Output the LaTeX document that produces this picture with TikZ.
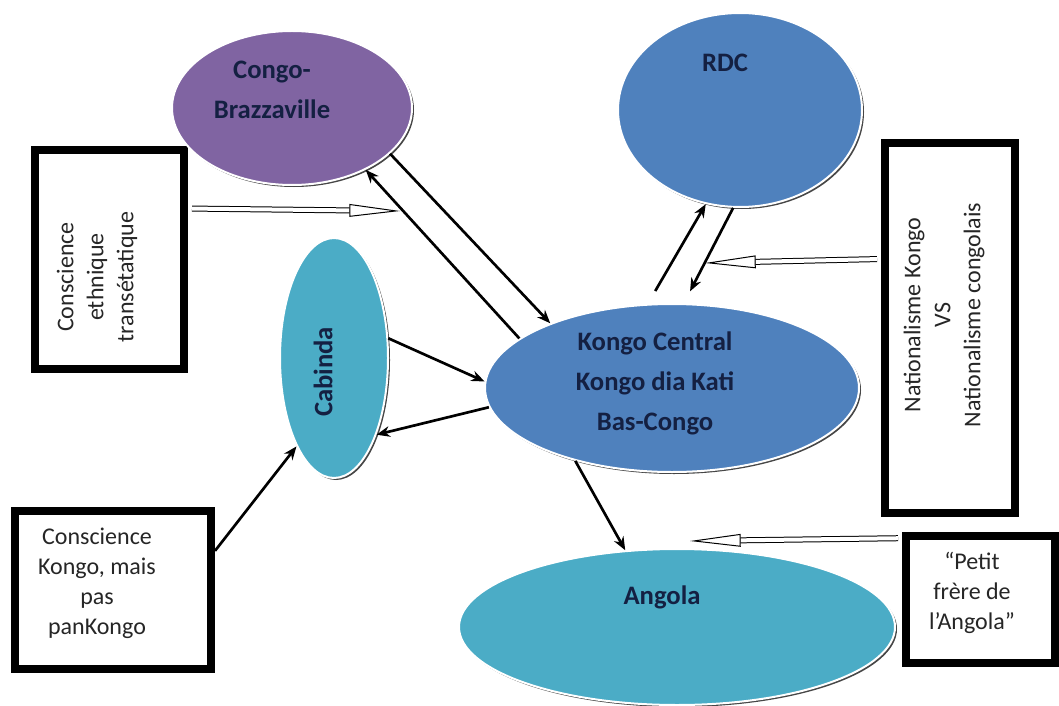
\documentclass[tikz,border=0pt]{standalone}
\usepackage{fontspec}
\setmainfont{Carlito}
\usetikzlibrary{arrows.meta,shapes.geometric,shadows}

\definecolor{cbpurple}{RGB}{128,100,162}
\definecolor{rdcblue}{RGB}{79,129,189}
\definecolor{cabteal}{RGB}{75,172,198}
\definecolor{navytext}{RGB}{20,32,66}
\definecolor{boxtext}{RGB}{38,38,38}

\tikzset{every picture/.style={line width=0.75pt}}
\tikzset{
  pays/.style={ellipse, draw=white, line width=1.5pt, inner sep=0pt,
    drop shadow={shadow xshift=1.5pt, shadow yshift=-1.5pt, opacity=0.85, fill=black!85}},
  paystext/.style={font=\bfseries\fontsize{20}{30}\selectfont, text=navytext, align=center},
  cadre/.style={draw=black, line width=6pt, fill=white, inner sep=0pt},
  cadretext/.style={font=\fontsize{18}{22.5}\selectfont, text=boxtext, align=center},
  fleche/.style={line width=2pt, -{Stealth[length=10pt,width=8pt]}},
  creux/.style={double=white, double distance=3pt, line width=0.75pt, shorten <=3pt,
    -{Triangle[open, length=38pt, width=9.5pt]}}
}

\begin{document}
\begin{tikzpicture}[x=0.75pt,y=0.75pt,yscale=-1,xscale=1]
\useasboundingbox (0,0) rectangle (1059,706);

%Shape: Rectangle
\node[cadre, minimum width=111.75pt, minimum height=164.25pt] (ethn) at (109.5,259.5) {};
%Shape: Rectangle
\node[cadre, minimum width=147pt, minimum height=118.5pt] (kbox) at (113,590) {};
%Shape: Rectangle
\node[cadre, minimum width=97.5pt, minimum height=277.5pt] (nat) at (950,328) {};
%Shape: Rectangle
\node[cadre, minimum width=111.75pt, minimum height=95.25pt] (pet) at (980.5,599.5) {};

%Shape: Ellipse
\node[pays, fill=cbpurple, minimum width=180pt, minimum height=115.5pt] (cb) at (292,108) {};
%Shape: Ellipse
\node[pays, fill=rdcblue, minimum width=183pt, minimum height=145.5pt] (rdc) at (740,110) {};
%Shape: Ellipse
\node[pays, fill=rdcblue, minimum width=280.5pt, minimum height=126pt] (kc) at (672,388) {};
%Shape: Ellipse
\node[pays, fill=cabteal, minimum width=81pt, minimum height=180pt] (cab) at (334,358) {};
%Shape: Ellipse
\node[pays, fill=cabteal, minimum width=327pt, minimum height=117pt] (ang) at (677,627) {};

% Text
\node[paystext] (cbtxt) at (272,90) {Congo-\\Brazzaville};
\node[paystext] (rdctxt) at (725,63) {RDC};
\node[paystext] (kctxt) at (655,383) {Kongo Central\\Kongo dia Kati\\Bas-Congo};
\node[paystext, rotate=90] (cabtxt) at (323,372) {Cabinda};
\node[paystext] (angtxt) at (662,597) {Angola};
\node[cadretext, rotate=90] (ethntxt) at (97,277) {Conscience\\ethnique\\transétatique};
\node[cadretext] (kboxtxt) at (97,583) {Conscience\\Kongo, mais\\pas\\panKongo};
\node[cadretext, rotate=90] (nattxt) at (944,315) {Nationalisme Kongo\\VS\\Nationalisme congolais};
\node[cadretext] (pettxt) at (972,593) {“Petit\\frère de\\l’Angola”};

%Straight Lines
\coordinate (h1) at (400,211);
\coordinate (h2) at (705,263);
\coordinate (h3) at (690,541);
\draw[creux] (ethn.33) -- (h1);
\draw[creux] (nat.135) -- (h2);
\draw[creux] (pet.142) -- (h3);

%Straight Lines
\draw[fleche] (cb.-25) -- (kc.152);
\draw[fleche] (kc.162) -- (cb.-40);
\draw[fleche, shorten <=11pt] (kc.106) -- (rdc.-110);
\draw[fleche, shorten >=10pt] (rdc.-94) -- (kc.82);
\draw[fleche] (cab.20) -- (kc.178);
\draw[fleche] (kc.-174) -- (cab.-61);
\draw[fleche] (kbox.21) -- (cab.-113);
\draw[fleche] (kc.-143) -- (ang.124);

\end{tikzpicture}
\end{document}
